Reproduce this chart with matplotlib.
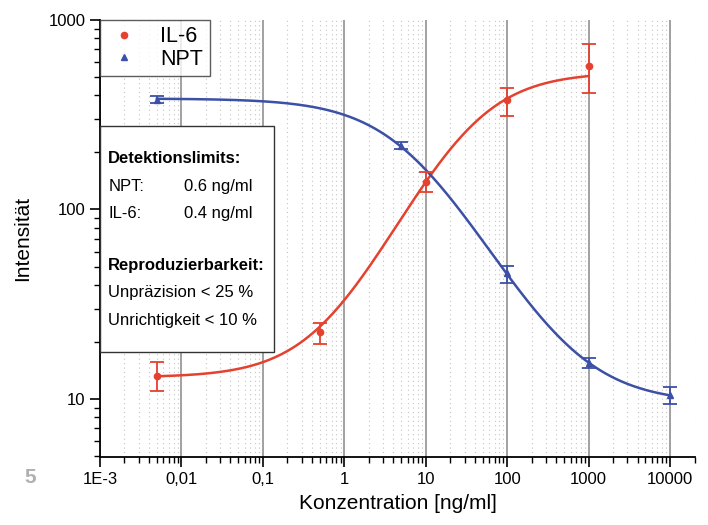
import numpy as np
import matplotlib
matplotlib.use("Agg")
import matplotlib.pyplot as plt
from matplotlib.ticker import LogLocator, FixedLocator, FixedFormatter, NullFormatter

plt.rcParams['font.family'] = ['Liberation Sans', 'DejaVu Sans']

# Messpunkte
il6_conc = [0.005, 0.5, 10, 100, 1000]
il6_val = [13.3, 22.6, 140, 380, 575]
il6_err_lo = [2.3, 3.1, 16, 67, 164]
il6_err_hi = [2.3, 2.6, 18, 60, 170]

npt_conc = [0.005, 5, 100, 1000, 10000]
npt_val = [380, 217, 46, 15.5, 10.5]
npt_err_lo = [15, 9, 5, 0.9, 1.1]
npt_err_hi = [15, 9, 4.5, 1.0, 1.1]

# 4PL-Fitparameter (unten, oben, EC50, Steigung)
il6_fit = (13.0, 530.0, 35.0, 0.9)
npt_fit = (385.0, 9.5, 6.26, 0.81)

xtick_vals = [1e-3, 1e-2, 1e-1, 1, 10, 100, 1000, 10000]
xtick_labels = ['1E-3', '0,01', '0,1', '1', '10', '100', '1000', '10000']
ytick_vals = [10, 100, 1000]
ytick_labels = ['10', '100', '1000']

red = '#e5412f'
blue = '#3c50a6'


def logistic(x, p):
    a, d, c, b = p
    return d + (a - d) / (1 + (x / c) ** b)


fig = plt.figure(figsize=(7.08, 5.25), dpi=100)
ax = fig.add_axes([0.1412, 0.1295, 0.841, 0.8324])
ax.set_xscale('log')
ax.set_yscale('log')
ax.set_xlim(1e-3, 2.05e4)
ax.set_ylim(4.94, 1000)

# Gitter
ax.xaxis.set_minor_locator(LogLocator(base=10, subs=np.arange(2, 10), numticks=20))
ax.xaxis.set_minor_formatter(NullFormatter())
ax.grid(True, which='major', axis='x', color='#9a9a9a', lw=1.3, ls='-')
ax.grid(True, which='minor', axis='x', color='#c4c4c4', lw=0.8, ls=(0, (1, 3)))
ax.set_axisbelow(True)

# Kurven
xs = np.logspace(np.log10(0.005), np.log10(1000), 300)
ax.plot(xs, logistic(xs, il6_fit), color=red, lw=1.8, zorder=3)
xs2 = np.logspace(np.log10(0.005), np.log10(10000), 300)
ax.plot(xs2, logistic(xs2, npt_fit), color=blue, lw=1.8, zorder=3)

ax.errorbar(il6_conc, il6_val, yerr=[il6_err_lo, il6_err_hi], fmt='o', color=red,
            ms=4.5, capsize=5, elinewidth=1.3, capthick=1.3, label='IL-6', zorder=4)
ax.errorbar(npt_conc, npt_val, yerr=[npt_err_lo, npt_err_hi], fmt='^', color=blue,
            ms=5, capsize=5, elinewidth=1.3, capthick=1.3, label='NPT', zorder=4)

ax.xaxis.set_major_locator(FixedLocator(xtick_vals))
ax.xaxis.set_major_formatter(FixedFormatter(xtick_labels))
ax.yaxis.set_major_locator(FixedLocator(ytick_vals))
ax.yaxis.set_major_formatter(FixedFormatter(ytick_labels))
ax.yaxis.set_minor_locator(LogLocator(base=10, subs=np.arange(2, 10), numticks=20))
ax.yaxis.set_minor_formatter(NullFormatter())
ax.tick_params(which='major', length=7, width=1.2, labelsize=12, direction='out')
ax.tick_params(which='minor', length=4, width=1.0, direction='out')

for s in ['top', 'right']:
    ax.spines[s].set_visible(False)
for s in ['left', 'bottom']:
    ax.spines[s].set_linewidth(1.3)

ax.set_xlabel('Konzentration [ng/ml]', fontsize=15, labelpad=5)
ax.set_ylabel('Intensität', fontsize=15, labelpad=12)

# Legende ohne Fehlerbalken
h1 = ax.plot([], [], 'o', color=red, ms=4.5)[0]
h2 = ax.plot([], [], '^', color=blue, ms=5)[0]
leg = ax.legend([h1, h2], ['IL-6', 'NPT'], loc='upper left', fontsize=15.5, frameon=True,
                fancybox=False, edgecolor='#333333', borderaxespad=0, handletextpad=0.9,
                borderpad=0.3, labelspacing=0.05, handlelength=1.6)
leg.get_frame().set_linewidth(1.0)
leg.set_zorder(6)

# Textbox
box = plt.Rectangle((0, 0.24), 0.293, 0.518, transform=ax.transAxes, facecolor='white',
                    edgecolor='#333333', lw=1.0, zorder=5)
ax.add_patch(box)
tx = 0.014
rows = [
    (0.682, 'Detektionslimits:', None, True),
    (0.618, 'NPT:', '0.6 ng/ml', False),
    (0.558, 'IL-6:', '0.4 ng/ml', False),
    (0.438, 'Reproduzierbarkeit:', None, True),
    (0.376, 'Unpräzision < 25 %', None, False),
    (0.312, 'Unrichtigkeit < 10 %', None, False),
]
for y, t1, t2, bold in rows:
    ax.text(tx, y, t1, transform=ax.transAxes, fontsize=12, va='center',
            fontweight='bold' if bold else 'normal', zorder=7)
    if t2:
        ax.text(0.141, y, t2, transform=ax.transAxes, fontsize=12, va='center', zorder=7)

fig.text(0.035, 0.09, '5', fontsize=15, color='#b0b0b0', fontweight='bold',
         ha='left', va='center')

fig.savefig('out.png', dpi=100)
